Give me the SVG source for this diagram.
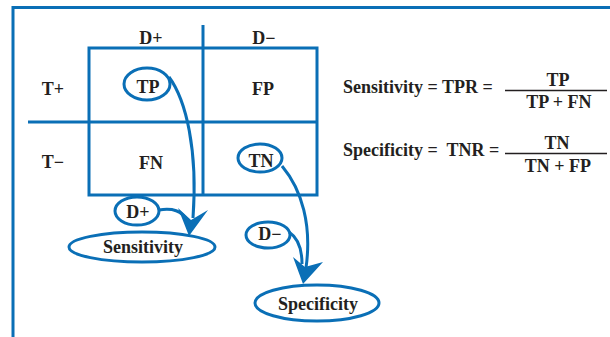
<svg xmlns="http://www.w3.org/2000/svg" width="610" height="337" viewBox="0 0 610 337">
<style>
.ln{fill:none;stroke:#0a6fb6;stroke-width:3}
.t{font-family:"Liberation Serif","Times New Roman",serif;font-weight:bold;font-size:18px;fill:#231f20;text-anchor:middle}
.l{font-family:"Liberation Serif","Times New Roman",serif;font-weight:bold;font-size:18px;fill:#231f20;white-space:pre}
.ah{fill:#0a6fb6}
</style>
<rect width="610" height="337" fill="#fff"/>
<path class="ln" d="M13,337 V7.5 H610"/>
<g id="grid">
<rect class="ln" x="89" y="48" width="228" height="147"/>
<line class="ln" x1="203" y1="25" x2="203" y2="195"/>
<line class="ln" x1="28" y1="122" x2="317" y2="122"/>
</g>
<g id="labels">
<text class="t" x="151" y="44">D+</text>
<text class="t" x="264" y="44">D−</text>
<text class="t" x="53" y="95">T+</text>
<text class="t" x="53" y="168">T−</text>
<text class="t" x="263" y="95">FP</text>
<text class="t" x="151" y="169">FN</text>
</g>
<g id="tp"><ellipse class="ln" cx="147" cy="84" rx="23" ry="16"/><text class="t" x="148" y="93">TP</text></g>
<g id="tn"><ellipse class="ln" cx="260" cy="158" rx="22" ry="14"/><text class="t" x="261" y="167">TN</text></g>
<g id="dplus"><ellipse class="ln" cx="137" cy="211" rx="22" ry="14"/><text class="t" x="138" y="218">D+</text></g>
<g id="dminus"><ellipse class="ln" cx="268" cy="235" rx="22" ry="13"/><text class="t" x="270" y="240">D−</text></g>
<g id="sens"><ellipse class="ln" cx="142" cy="247" rx="73" ry="15"/><text class="t" x="143" y="253">Sensitivity</text></g>
<g id="spec"><ellipse class="ln" cx="317" cy="303" rx="62" ry="18"/><text class="t" x="318" y="310">Specificity</text></g>
<g id="connectors">
<path class="ln" d="M169,77 C186,100 198,150 193,218"/>
<path class="ln" d="M159,210 C172,208 182,210 188,222"/>
<path class="ah" d="M178,208 L191,220 L208,210 L189,236 Z"/>
<path class="ln" d="M282,166 C302,190 312,225 306,268"/>
<path class="ln" d="M289,232 C298,238 302,250 302,264"/>
<path class="ah" d="M293,257 L305,267 L323,262 L303,284 Z"/>
</g>
<g id="formulas">
<text class="l" x="343" y="93">Sensitivity = TPR =</text>
<line x1="505" y1="90.5" x2="607" y2="90.5" stroke="#231f20" stroke-width="1.5"/>
<text class="t" x="558" y="86">TP</text>
<text class="t" x="559" y="108">TP + FN</text>
<text class="l" x="343" y="156">Specificity =  TNR =</text>
<line x1="505" y1="153.5" x2="607" y2="153.5" stroke="#231f20" stroke-width="1.5"/>
<text class="t" x="557" y="149">TN</text>
<text class="t" x="558" y="172">TN + FP</text>
</g>
</svg>
